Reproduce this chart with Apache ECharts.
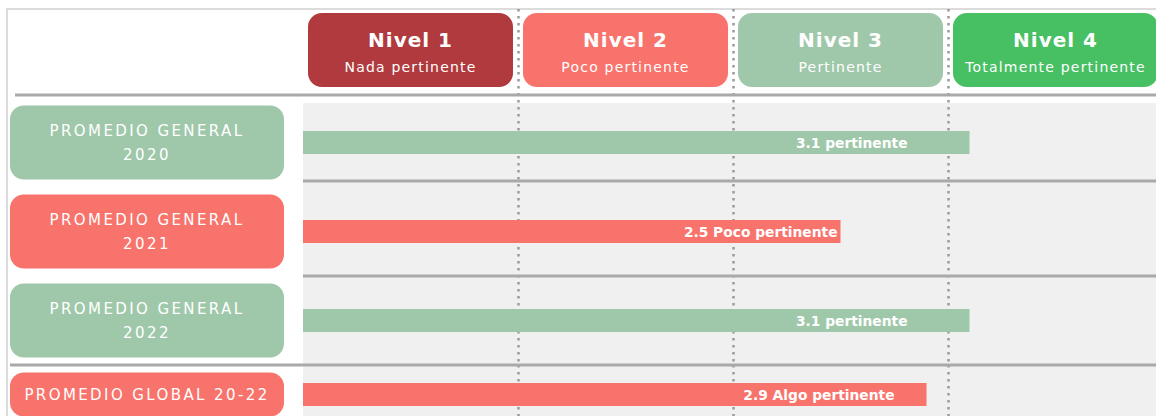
<!DOCTYPE html>
<html><head><meta charset="utf-8">
<script src="https://cdn.jsdelivr.net/npm/echarts@6/dist/echarts.min.js"></script>
<style>
html,body{margin:0;padding:0;background:#fff;}
#c{width:1156px;height:416px;}
#c text[style*="15px"]{letter-spacing:2.4px;}
#c text[style*="20px"]{letter-spacing:1px;}
#c text[style*="14px"]{letter-spacing:1.2px;}
</style></head><body><div id="c"></div>
<script>
// ---- data ----
const levelNames = ['Nivel 1', 'Nivel 2', 'Nivel 3', 'Nivel 4'];
const levelDescs = ['Nada pertinente', 'Poco pertinente', 'Pertinente', 'Totalmente pertinente'];
const rowLabels = ['PROMEDIO GENERAL\n2020', 'PROMEDIO GENERAL\n2021', 'PROMEDIO GENERAL\n2022'];
const rowValues = [3.1, 2.5, 3.1];
const rowQualities = ['pertinente', 'Poco pertinente', 'pertinente'];
const globalLabel = ['PROMEDIO GLOBAL 20-22'];
const globalValue = [2.9];
const globalQuality = ['Algo pertinente'];

// ---- styles ----
const GREEN = '#9fc8aa', SALMON = '#f8736b', DARKRED = '#b03a3e', BRIGHT = '#47bf63';
const levelColors = [DARKRED, SALMON, GREEN, BRIGHT];
const rowColors = [GREEN, SALMON, GREEN];
const globalColor = SALMON;
const rowLabelGap = [62, 3, 62];
const globalLabelGap = 32;
const FONT = '"DejaVu Sans", sans-serif';

function valAxis(gridIndex) {
  return {
    type: 'value', gridIndex, min: 0, max: 4, interval: 1,
    axisLine: {show: false}, axisTick: {show: false}, axisLabel: {show: false},
    splitLine: {show: true, showMinLine: false, showMaxLine: false,
      lineStyle: {color: '#9b9b9b', width: 2.5, type: [2.5, 4.5]}}
  };
}
const rowAxisLabel = {
  interval: 0, margin: 19, align: 'right', width: 274, padding: [13, 0],
  borderRadius: 14,
  formatter: v => v ? v.split('\n').map(s => `{a|${s}}`).join('\n') : '',
  rich: {a: {align: 'center', lineHeight: 24, color: '#fff', fontSize: 15, fontFamily: FONT}}
};
const barLabel = {
  show: true, position: 'insideRight', color: '#fff', fontWeight: 'bold',
  fontSize: 13.8, fontFamily: FONT
};

const chart = echarts.init(document.getElementById('c'), null, {renderer: 'svg'});
chart.setOption({
  animation: false,
  backgroundColor: '#fff',
  grid: [
    {left: 303, top: 9, width: 860, height: 356, containLabel: false, outerBoundsMode: 'none'},
    {left: 303, top: 365, width: 860, height: 59, containLabel: false, outerBoundsMode: 'none'}
  ],
  xAxis: [
    valAxis(0),
    {
      type: 'category', gridIndex: 0, position: 'top',
      data: levelNames.map((n, i) => ({value: n, textStyle: {backgroundColor: levelColors[i]}})),
      axisLine: {show: false}, axisTick: {show: false}, splitLine: {show: false},
      axisLabel: {
        inside: true, margin: 4, interval: 0, width: 205, padding: [10, 0],
        borderRadius: 14, color: '#fff', align: 'center',
        formatter: (v, i) => `{t|${v}}\n{s|${levelDescs[i]}}`,
        rich: {
          t: {fontSize: 20, fontWeight: 'bold', lineHeight: 34, color: '#fff', fontFamily: FONT},
          s: {fontSize: 14, lineHeight: 20, color: '#fff', fontFamily: FONT}
        }
      }
    },
    valAxis(1)
  ],
  yAxis: [
    {
      type: 'category', gridIndex: 0, inverse: true,
      data: [{value: ''}].concat(rowLabels.map((l, i) => ({value: l, textStyle: {backgroundColor: rowColors[i]}}))),
      axisLine: {show: false}, axisTick: {show: false}, splitLine: {show: false},
      axisLabel: rowAxisLabel
    },
    {
      type: 'category', gridIndex: 1, inverse: true,
      data: globalLabel.map(l => ({value: l, textStyle: {backgroundColor: globalColor, padding: [10, 0]}})),
      axisLine: {show: false}, axisTick: {show: false}, splitLine: {show: false},
      axisLabel: rowAxisLabel
    }
  ],
  series: [
    {
      type: 'bar', xAxisIndex: 0, yAxisIndex: 0, barWidth: 23,
      data: ['-'].concat(rowValues.map((v, i) => ({
        value: v, itemStyle: {color: rowColors[i]}, label: {distance: rowLabelGap[i]}
      }))),
      label: Object.assign({}, barLabel, {
        formatter: p => `${p.value} ${rowQualities[p.dataIndex - 1]}`
      })
    },
    {
      type: 'bar', xAxisIndex: 2, yAxisIndex: 1, barWidth: 23,
      data: globalValue.map(v => ({value: v, itemStyle: {color: globalColor}, label: {distance: globalLabelGap}})),
      label: Object.assign({}, barLabel, {
        formatter: p => `${p.value} ${globalQuality[p.dataIndex]}`
      })
    }
  ],
  graphic: [
    {type: 'rect', z: -10, silent: true, shape: {x: 303, y: 103, width: 900, height: 400}, style: {fill: '#f0f0f0'}},
    {type: 'rect', z: -9, silent: true, shape: {x: 7, y: 9, width: 1200, height: 500}, style: {fill: 'none', stroke: '#dcdcdc', lineWidth: 2}},
    {type: 'line', z: 1, silent: true, shape: {x1: 15, y1: 95, x2: 1160, y2: 95}, style: {stroke: '#a9a9a9', lineWidth: 3}},
    {type: 'line', z: 1, silent: true, shape: {x1: 303, y1: 181, x2: 1160, y2: 181}, style: {stroke: '#a9a9a9', lineWidth: 3}},
    {type: 'line', z: 1, silent: true, shape: {x1: 303, y1: 276, x2: 1160, y2: 276}, style: {stroke: '#a9a9a9', lineWidth: 3}},
    {type: 'line', z: 1, silent: true, shape: {x1: 10, y1: 365, x2: 1160, y2: 365}, style: {stroke: '#a9a9a9', lineWidth: 3}}
  ]
});
</script></body></html>
